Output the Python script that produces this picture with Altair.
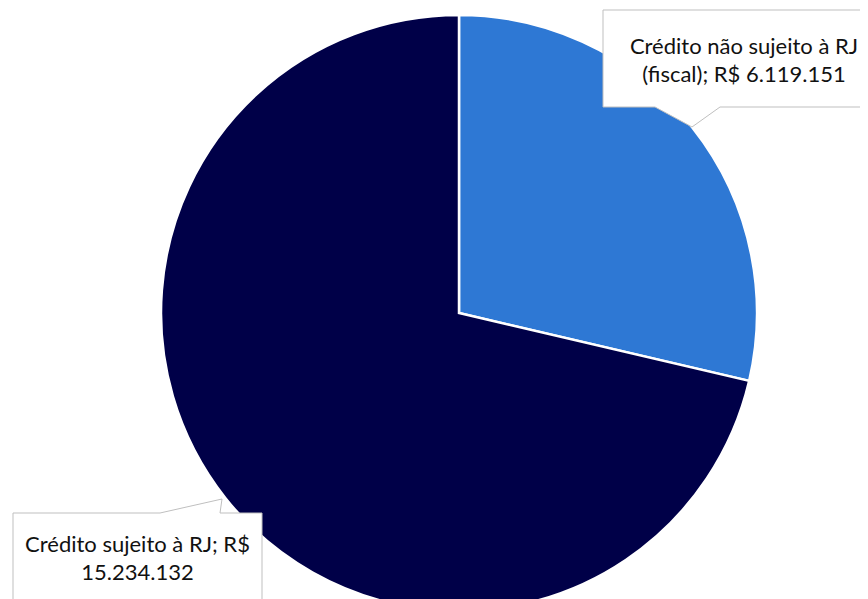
import altair as alt
import pandas as pd

categories = ["Crédito não sujeito à RJ (fiscal)", "Crédito sujeito à RJ"]
values = [6119151, 15234132]
slice_order = [0, 1]
label_lines = [
    ["Crédito não sujeito à RJ", "(fiscal); R$ 6.119.151"],
    ["Crédito sujeito à RJ; R$", "15.234.132"],
]
colors = ["#2E78D4", "#000048"]

df = pd.DataFrame({
    "category": categories,
    "value": values,
    "order": slice_order,
    "lines": label_lines,
})

W, H = 852, 591
CX, CY, R = 451, 305, 298

base = alt.Chart(df)

pie = base.mark_arc(outerRadius=R, stroke="white", strokeWidth=2.5).encode(
    theta=alt.Theta("value:Q", stack=True),
    color=alt.Color("category:N", scale=alt.Scale(domain=categories, range=colors), legend=None),
    order=alt.Order("order:Q"),
    x=alt.value(CX),
    y=alt.value(CY),
)

# callout shapes (box + tail), path units are pixels with size=4
path1 = "M-141,-48 L141,-48 L141,49 L-24,49 L-52,69 L-89,49 L-141,49 Z"
path2 = "M-124.5,-43 L22.5,-43 L84.5,-57 L82.5,-43 L124.5,-43 L124.5,84 L-124.5,84 Z"

box_style = dict(size=4, filled=True, fill="white", stroke="#BFBFBF", strokeWidth=1, opacity=1)

box1 = base.transform_filter(alt.datum.order == 0).mark_point(shape=path1, **box_style).encode(
    x=alt.value(736), y=alt.value(50)
)
box2 = base.transform_filter(alt.datum.order == 1).mark_point(shape=path2, **box_style).encode(
    x=alt.value(129.5), y=alt.value(548)
)

text_style = dict(font="Lato", fontSize=22, lineHeight=28, align="center", baseline="alphabetic", color="#111111")

text1 = base.transform_filter(alt.datum.order == 0).mark_text(**text_style).encode(
    text="lines", x=alt.value(736), y=alt.value(46)
)
text2 = base.transform_filter(alt.datum.order == 1).mark_text(**text_style).encode(
    text="lines", x=alt.value(129.5), y=alt.value(544)
)

chart = alt.layer(pie, box1, box2, text1, text2).properties(
    width=W, height=H, autosize=alt.AutoSizeParams(type="none"), padding=0
).configure_view(stroke=None)

chart.save("out.html", embed_options={"renderer": "svg", "actions": False})
